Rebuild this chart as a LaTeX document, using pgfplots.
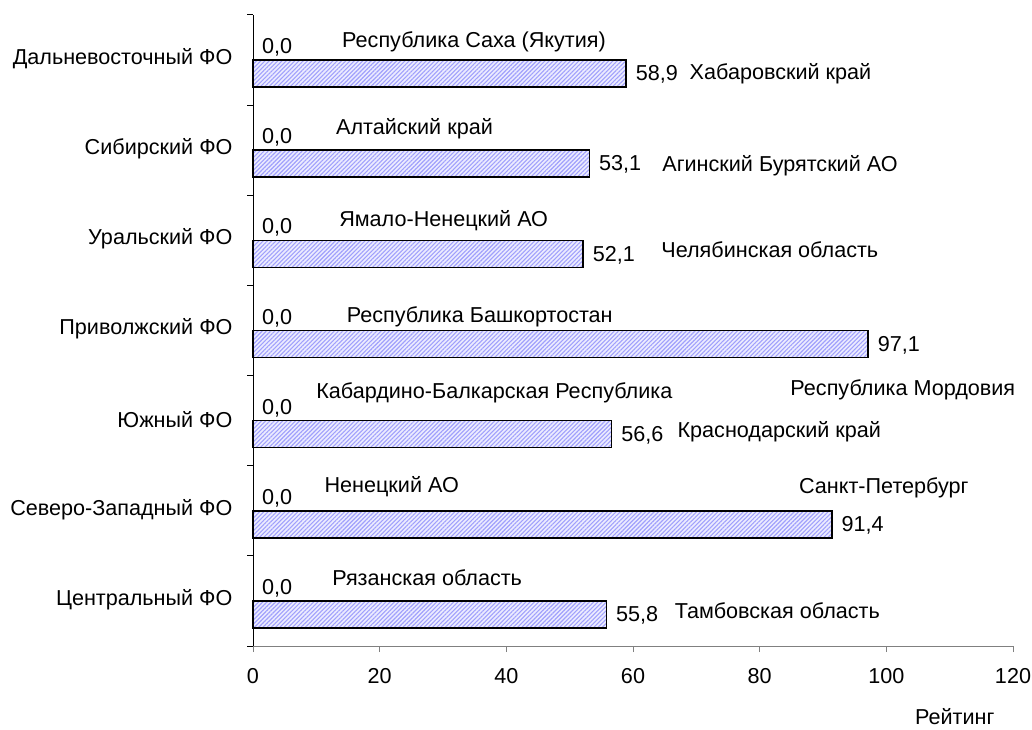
\documentclass[border=0pt]{standalone}
\usepackage{pgfplots}
\pgfplotsset{compat=1.18}
\usepackage{fontspec}
\setmainfont{Liberation Sans}
\usetikzlibrary{patterns.meta}
\definecolor{barbg}{RGB}{236,236,255}
\definecolor{barline}{RGB}{160,160,252}
\definecolor{axgray}{RGB}{128,128,128}
\begin{document}
\begin{tikzpicture}[font=\fontsize{21.6}{25}\selectfont]
\path[use as bounding box] (0,0) rectangle (1032pt,729pt);
\begin{axis}[
  at={(253pt,83pt)}, anchor=south west,
  scale only axis, width=760pt, height=631pt,
  xmin=0, xmax=120, ymin=-0.5, ymax=6.5,
  axis x line=bottom, axis y line=left,
  axis line style={-},
  x axis line style={draw=axgray, line width=1pt},
  y axis line style={draw=black, line width=1pt},
  xtick={0,20,...,120},
  x tick style={draw=axgray, line width=1pt},
  y tick style={draw=black, line width=1pt},
  tick align=outside, major tick length=6pt,
  ytick={-0.5,0.5,...,5.5},
  yticklabels={Центральный ФО,Северо-Западный ФО,Южный ФО,Приволжский ФО,Уральский ФО,Сибирский ФО,Дальневосточный ФО},
  yticklabel style={yshift=46.5pt, xshift=-11pt},
  extra y ticks={6.5}, extra y tick labels={},
  xticklabel style={yshift=-13pt},
  /pgf/number format/assume math mode=true,
  xbar, bar width=0.3,
  nodes near coords={\pgfmathprintnumber[fixed,fixed zerofill,precision=1,use comma,assume math mode=true]{\pgfplotspointmeta}},
  every node near coord/.append style={anchor=west, inner sep=0pt, xshift=9pt, yshift=-1pt, text=black},
  clip=false,
]
% zero series (min region)
\addplot[draw=none, fill=none, bar shift=0.15] coordinates {
  (0,0) (0,1) (0,2) (0,3) (0,4) (0,5) (0,6)};
% max rating series
\addplot[draw=black, line width=1.6pt, fill=barbg,
  postaction={pattern={Lines[angle=45,distance=3pt,line width=1.1pt]}, pattern color=barline},
  bar shift=-0.15] coordinates {
  (55.8,0) (91.4,1) (56.6,2) (97.1,3) (52.1,4) (53.1,5) (58.9,6)};

\node at (axis cs:34.9,6.20) {Республика Саха (Якутия)};
\node[anchor=west] at (axis cs:68.4,5.846) {Хабаровский край};
\node at (axis cs:25.5,5.235) {Алтайский край};
\node at (axis cs:83.2,4.825) {Агинский Бурятский АО};
\node at (axis cs:30.1,4.215) {Ямало-Ненецкий АО};
\node at (axis cs:81.6,3.893) {Челябинская область};
\node at (axis cs:35.8,3.150) {Республика Башкортостан};
\node at (axis cs:38.1,2.307) {Кабардино-Балкарская Республика};
\node at (axis cs:102.6,2.340) {Республика Мордовия};
\node at (axis cs:83.1,1.874) {Краснодарский край};
\node at (axis cs:21.9,1.264) {Ненецкий АО};
\node at (axis cs:99.6,1.253) {Санкт-Петербург};
\node at (axis cs:27.5,0.254) {Рязанская область};
\node at (axis cs:82.8,-0.112) {Тамбовская область};
\node[anchor=base, inner sep=1pt] at (axis cs:110.8,-1.37) {Рейтинг};
\end{axis}
\end{tikzpicture}
\end{document}
